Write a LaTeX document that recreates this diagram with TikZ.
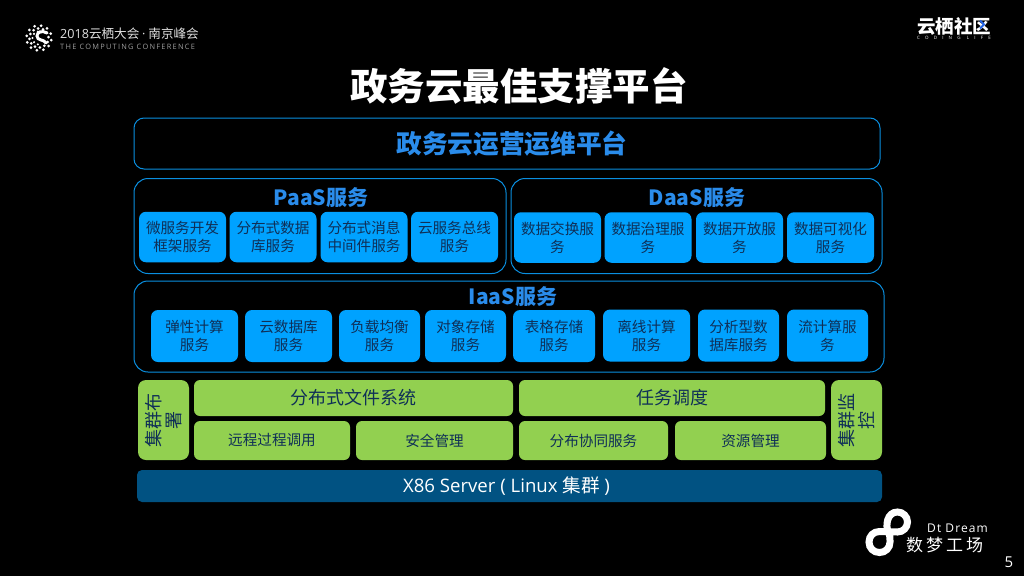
\documentclass[tikz,border=0pt]{standalone}
\usepackage{fontspec}
\setmainfont{Noto Sans CJK SC}
\newfontfamily\gvlatin{Open Sans}
\newfontfamily\gvspaced[LetterSpace=17]{Open Sans}
\newfontfamily\gvcoding[LetterSpace=115]{Open Sans}
\newfontfamily\gvdream[LetterSpace=9]{Open Sans}
\usepackage{xcolor}
\usepackage{tikz}
\definecolor{gvline}{HTML}{0A8FE0}
\definecolor{gvblue}{HTML}{00A2FF}
\definecolor{gvhead}{HTML}{2A8CEB}
\definecolor{gvgreen}{HTML}{92D050}
\definecolor{gvnavy}{HTML}{0F2F57}
\definecolor{gvserver}{HTML}{015282}
\definecolor{gvspark}{HTML}{2466E8}
\tikzset{
  gvouter/.style={draw=gvline, line width=1pt, rounded corners=14pt, inner sep=0pt},
  gvservice/.style={fill=gvblue, text=gvnavy, rounded corners=7pt, inner sep=0pt, align=center, minimum height=50.5pt, font=\fontsize{14.6}{18}\selectfont},
  gvbase/.style={fill=gvgreen, text=gvnavy, rounded corners=6pt, inner sep=0pt, align=center, font=\fontsize{14.6}{18}\selectfont},
  gvwide/.style={gvbase, minimum height=36pt, font=\fontsize{18}{20}\selectfont},
  gvlow/.style={gvbase, minimum height=39pt},
  gvside/.style={gvbase, rotate=90, minimum width=80pt, minimum height=51pt, rounded corners=8pt, font=\fontsize{18}{20}\selectfont},
  gvhd/.style={text=gvhead, inner sep=0pt, font=\fontsize{21}{24}\selectfont\bfseries},
  gvmark/.style={text=white, inner sep=0pt},
  gvdot/.style={fill=white, draw=none},
}
\begin{document}
\begin{tikzpicture}[x=1pt, y=-1pt]
\fill[black] (0,0) rectangle (1024,576);
\useasboundingbox (0,0) rectangle (1024,576);
\node[gvmark, font=\fontsize{37.5}{40}\selectfont\bfseries] (title) at (519,86) {政务云最佳支撑平台};
\node[gvouter, rounded corners=10pt, minimum width=746pt, minimum height=51pt] (ops) at (507,143.5) {};
\node[gvhd, font=\fontsize{25.7}{28}\selectfont\bfseries] (opshd) at (512,143.5) {政务云运营运维平台};
\node[gvouter, minimum width=372pt, minimum height=95pt] (paas) at (320,226) {};
\node[gvouter, minimum width=371pt, minimum height=95pt] (daas) at (696.5,226) {};
\node[gvouter, minimum width=750pt, minimum height=91pt] (iaas) at (509,326.5) {};
\node[gvhd] (paashd) at (321,198) {PaaS服务};
\node[gvhd] (daashd) at (697,198) {DaaS服务};
\node[gvhd] (iaashd) at (513,297) {IaaS服务};
\node[gvservice, minimum width=87pt] (micro) at (182.5,237) {微服务开发\\框架服务};
\node[gvservice, minimum width=87pt] (distdb) at (273,237) {分布式数据\\库服务};
\node[gvservice, minimum width=87pt] (distmsg) at (364,237) {分布式消息\\中间件服务};
\node[gvservice, minimum width=87pt] (bus) at (454.5,237) {云服务总线\\服务};
\node[gvservice, minimum width=87pt] (dswap) at (557.5,237.5) {数据交换服\\务};
\node[gvservice, minimum width=87pt] (dgov) at (648,237.5) {数据治理服\\务};
\node[gvservice, minimum width=87pt] (dopen) at (739.5,237.5) {数据开放服\\务};
\node[gvservice, minimum width=87pt] (dvis) at (830.5,237.5) {数据可视化\\服务};
\node[gvservice, minimum width=87pt, minimum height=52pt] (elastic) at (194.5,336) {弹性计算\\服务};
\node[gvservice, minimum width=87pt, minimum height=52pt] (clouddb) at (288.5,336) {云数据库\\服务};
\node[gvservice, minimum width=81pt, minimum height=52pt] (balance) at (379.5,336) {负载均衡\\服务};
\node[gvservice, minimum width=81pt, minimum height=52pt] (objstore) at (465.5,336) {对象存储\\服务};
\node[gvservice, minimum width=82pt, minimum height=52pt] (tabstore) at (554,336) {表格存储\\服务};
\node[gvservice, minimum width=87pt, minimum height=52pt] (offline) at (646.5,335.5) {离线计算\\服务};
\node[gvservice, minimum width=81pt, minimum height=52pt] (adb) at (738.5,335.5) {分析型数\\据库服务};
\node[gvservice, minimum width=81pt, minimum height=52pt] (stream) at (827.5,335.5) {流计算服\\务};
\node[gvside] (deploy) at (163.5,420) {集群布\\署};
\node[gvwide, minimum width=319pt] (dfs) at (353.5,398) {分布式文件系统};
\node[gvwide, minimum width=306pt] (sched) at (672,398) {任务调度};
\node[gvlow, minimum width=156pt] (rpc) at (272,440.5) {远程过程调用};
\node[gvlow, minimum width=157pt] (secure) at (434.5,440.5) {安全管理};
\node[gvlow, minimum width=149pt] (coord) at (593.5,440.5) {分布协同服务};
\node[gvlow, minimum width=151pt] (resource) at (750.5,440.5) {资源管理};
\node[gvside] (monitor) at (856.5,420) {集群监\\控};
\node[fill=gvserver, text=white, rounded corners=5pt, inner sep=0pt, minimum width=745pt, minimum height=32pt, font=\fontsize{18.6}{20}\selectfont] (server) at (509.5,486) {\hspace{-6pt}\gvlatin X86 Server ( Linux {\rmfamily 集群} )};
\foreach \a in {0,30,...,330} \fill[gvdot] ({39+12.5*cos(\a+100)},{38+12.5*sin(\a+100)}) circle (1.5);
\foreach \a in {15,45,...,345} \fill[gvdot] ({39+9.5*cos(\a+100)},{38+9.5*sin(\a+100)}) circle (1.5);
\foreach \a in {100,140,180,220,260} \fill[gvdot] ({39+6.5*cos(\a)},{38+6.5*sin(\a)}) circle (1.2);
\draw[white, line width=3pt, line cap=round] (47,33) .. controls (42,30) and (37,32) .. (37,36) .. controls (37,41) and (44,39) .. (46,43);
\node[text=white!88!black, anchor=west, inner sep=0pt, font=\fontsize{12.6}{15}\selectfont] (conf) at (60,34) {{\gvlatin 2018}云栖大会 {\gvlatin ·} 南京峰会};
\node[text=white!62!black, anchor=west, inner sep=0pt, font=\fontsize{7.4}{9}\selectfont] (confen) at (60,47) {\gvspaced THE COMPUTING CONFERENCE};
\node[gvmark, anchor=west, font=\fontsize{18.5}{20}\selectfont\bfseries] (cmty) at (917,26) {云栖社区};
\draw[gvspark, line width=2pt] (980,20.5) -- (984,24.5) -- (980,28.5);
\node[gvmark, anchor=west, font=\fontsize{4.5}{6}\selectfont] (cmtyen) at (917,37.5) {\gvcoding CODING LIFE};
\draw[white, line width=7pt] (888.5,532) .. controls (885,526) and (887,512) .. (897.5,512) .. controls (903,512) and (907.5,516.5) .. (907.5,522) .. controls (907.5,527.5) and (903,532) .. (897.5,532) .. controls (893,532) and (884,531.5) .. (879.5,531.5) .. controls (873.5,531.5) and (869,536) .. (869,542) .. controls (869,548) and (873.5,552.5) .. (879.5,552.5) .. controls (885.5,552.5) and (890,548) .. (890,542) .. controls (890,538) and (890,535) .. (888.5,532) -- cycle;
\node[gvmark, anchor=west, font=\fontsize{12}{14}\selectfont] (dtdream) at (927,528) {\gvdream Dt Dream};
\node[gvmark, anchor=west, font=\fontsize{17}{20}\selectfont] (dtcn) at (906,545) {数\hspace{3pt}梦\hspace{3pt}工\hspace{3pt}场};
\node[gvmark, font=\fontsize{15}{17}\selectfont] (pageno) at (1009,562) {\gvlatin 5};
\end{tikzpicture}
\end{document}
